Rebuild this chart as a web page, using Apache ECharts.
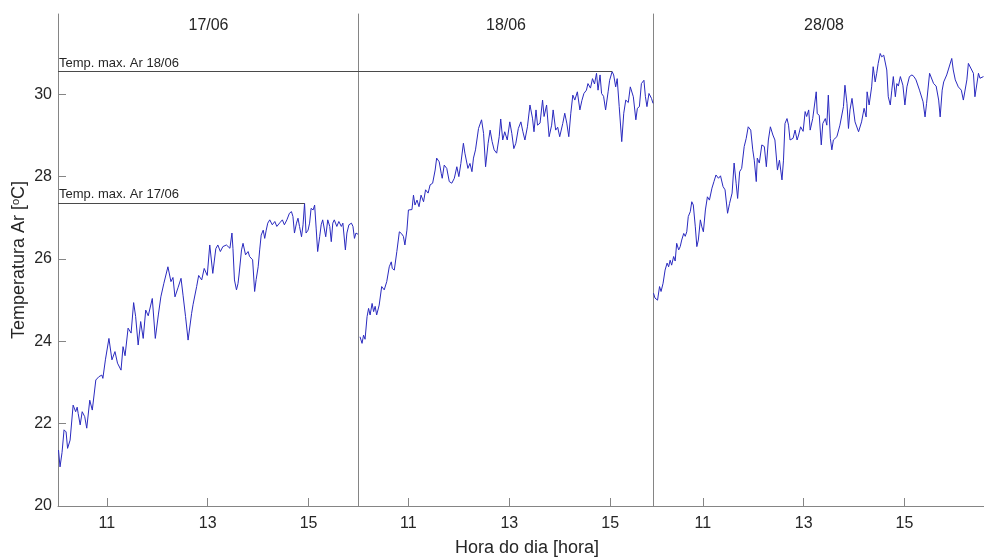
<!DOCTYPE html>
<html>
<head>
<meta charset="utf-8">
<script src="https://cdn.jsdelivr.net/npm/echarts@6/dist/echarts.min.js"></script>
<style>
html,body{margin:0;padding:0;background:#fff;}
#chart{width:984px;height:557px;}
</style>
</head>
<body>
<div id="chart"></div>
<script>
// ---- Data (hours of day, air temperature in °C) ----
const dayTitles = ['17/06', '18/06', '28/08'];
const xTickValues = [11, 13, 15];
const yTickValues = [20, 22, 24, 26, 28, 30];

const hours1706 = [10.04,10.07,10.11,10.15,10.19,10.22,10.27,10.33,10.38,10.41,10.43,10.47,10.51,10.56,10.60,10.66,10.71,10.78,10.84,10.90,10.92,10.97,11.04,11.10,11.16,11.21,11.28,11.32,11.36,11.42,11.48,11.53,11.57,11.62,11.67,11.72,11.77,11.82,11.90,11.96,12.02,12.07,12.13,12.21,12.27,12.31,12.35,12.41,12.47,12.51,12.56,12.61,12.68,12.71,12.78,12.82,12.88,12.93,12.99,13.04,13.10,13.16,13.20,13.25,13.30,13.37,13.44,13.48,13.50,13.53,13.57,13.60,13.62,13.67,13.70,13.75,13.80,13.83,13.89,13.93,13.96,14.00,14.03,14.06,14.10,14.13,14.16,14.19,14.23,14.28,14.33,14.37,14.43,14.48,14.52,14.57,14.62,14.66,14.69,14.72,14.76,14.79,14.82,14.86,14.89,14.92,14.95,14.99,15.02,15.05,15.09,15.12,15.15,15.18,15.22,15.25,15.28,15.34,15.38,15.42,15.45,15.48,15.51,15.56,15.60,15.65,15.68,15.73,15.76,15.80,15.85,15.88,15.91,15.94,15.98];
const temp1706 = [21.36,20.95,21.30,21.85,21.80,21.40,21.60,22.45,22.29,22.40,22.25,21.97,22.29,22.17,21.89,22.57,22.33,23.06,23.14,23.18,23.10,23.55,24.07,23.55,23.75,23.47,23.30,23.87,23.65,24.32,24.20,24.94,24.60,23.91,24.48,24.07,24.76,24.62,25.04,24.07,24.64,25.08,25.41,25.81,25.45,25.55,25.08,25.30,25.53,25.12,24.60,24.03,24.68,24.90,25.33,25.60,25.49,25.77,25.60,26.34,25.65,26.25,26.34,26.18,26.30,26.34,26.26,26.63,26.26,25.49,25.25,25.40,25.61,26.22,26.38,26.10,26.18,26.06,25.98,25.21,25.50,25.81,26.22,26.58,26.70,26.50,26.70,26.87,26.95,26.83,26.91,26.79,26.88,26.95,26.83,26.95,27.11,27.15,27.03,26.63,26.87,26.99,26.79,26.54,26.83,27.35,26.63,26.70,26.87,27.23,27.19,27.31,26.75,26.18,26.54,26.83,26.95,26.54,26.95,26.79,26.42,26.87,26.95,26.79,26.91,26.79,26.87,26.22,26.63,26.83,26.87,26.79,26.50,26.63,26.60];

const hours1806 = [10.04,10.08,10.11,10.14,10.18,10.21,10.24,10.28,10.31,10.34,10.37,10.42,10.47,10.52,10.57,10.62,10.66,10.68,10.72,10.77,10.82,10.86,10.90,10.93,10.97,11.00,11.03,11.07,11.10,11.13,11.17,11.21,11.25,11.30,11.34,11.39,11.43,11.48,11.53,11.56,11.61,11.65,11.67,11.71,11.76,11.81,11.86,11.91,11.96,12.00,12.04,12.09,12.12,12.18,12.22,12.26,12.29,12.33,12.39,12.45,12.49,12.53,12.58,12.62,12.66,12.70,12.75,12.80,12.83,12.87,12.91,12.96,13.01,13.05,13.09,13.13,13.18,13.23,13.27,13.31,13.36,13.41,13.46,13.49,13.53,13.56,13.61,13.66,13.69,13.74,13.79,13.84,13.87,13.92,13.96,14.00,14.06,14.10,14.14,14.18,14.22,14.26,14.30,14.35,14.40,14.44,14.48,14.53,14.56,14.61,14.65,14.69,14.73,14.76,14.80,14.83,14.87,14.91,14.96,14.99,15.04,15.07,15.11,15.14,15.18,15.23,15.27,15.31,15.36,15.40,15.46,15.51,15.54,15.58,15.62,15.67,15.70,15.73,15.77,15.82,15.85];
const temp1806 = [24.11,23.95,24.15,24.05,24.60,24.80,24.64,24.92,24.72,24.85,24.64,24.88,25.33,25.25,25.45,25.81,25.93,25.77,25.73,26.18,26.66,26.62,26.55,26.34,26.70,27.19,27.15,27.20,27.55,27.31,27.43,27.27,27.55,27.39,27.68,27.60,27.80,27.84,28.16,28.45,28.36,28.08,27.96,28.28,28.20,27.88,27.84,27.96,28.24,28.00,28.32,28.81,28.57,28.20,28.32,28.12,28.45,28.65,29.17,29.38,29.05,28.24,28.81,29.13,28.85,28.65,28.57,28.97,29.40,28.89,29.09,28.89,29.33,29.05,28.68,28.81,29.17,29.33,29.09,28.89,29.21,29.74,29.42,29.09,29.62,29.25,29.30,29.86,29.46,29.74,28.97,29.25,29.62,29.13,29.20,28.97,29.29,29.54,29.30,28.97,29.54,29.98,29.86,30.06,29.62,29.85,30.02,30.10,30.26,30.15,30.38,30.25,30.51,30.10,30.47,30.02,29.95,29.62,30.06,30.34,30.55,30.47,30.18,30.38,29.70,28.85,29.54,29.86,29.80,30.18,29.94,29.38,29.66,29.70,30.26,30.34,29.94,29.70,30.02,29.90,29.78];

const hours2808 = [10.02,10.05,10.10,10.14,10.17,10.21,10.25,10.29,10.32,10.35,10.38,10.42,10.45,10.48,10.52,10.55,10.58,10.62,10.65,10.68,10.71,10.75,10.78,10.81,10.85,10.88,10.91,10.95,10.98,11.01,11.05,11.09,11.13,11.18,11.22,11.26,11.31,11.35,11.40,11.44,11.49,11.53,11.58,11.62,11.66,11.69,11.73,11.77,11.82,11.86,11.90,11.95,11.99,12.02,12.06,12.08,12.12,12.17,12.22,12.26,12.30,12.34,12.39,12.43,12.48,12.52,12.57,12.60,12.63,12.67,12.70,12.73,12.79,12.83,12.87,12.90,12.94,12.99,13.03,13.06,13.10,13.13,13.18,13.25,13.27,13.31,13.35,13.38,13.43,13.46,13.49,13.53,13.56,13.59,13.66,13.72,13.79,13.82,13.86,13.89,13.92,13.96,14.02,14.09,14.15,14.20,14.24,14.26,14.30,14.35,14.38,14.42,14.45,14.48,14.52,14.55,14.59,14.62,14.65,14.68,14.72,14.75,14.78,14.82,14.85,14.88,14.92,14.97,15.01,15.05,15.10,15.15,15.19,15.23,15.30,15.37,15.41,15.44,15.50,15.53,15.58,15.63,15.68,15.71,15.75,15.78,15.84,15.87,15.94,15.97,16.01,16.07,16.13,16.17,16.24,16.27,16.30,16.37,16.40,16.47,16.50,16.57];
const temp2808 = [25.17,25.05,25.00,25.33,25.21,25.41,25.73,25.90,25.81,25.97,25.85,26.06,25.95,26.38,26.22,26.30,26.46,26.62,26.55,26.66,27.03,27.15,27.39,27.31,26.78,26.30,26.46,26.95,26.78,26.66,27.19,27.51,27.43,27.72,27.88,28.04,27.96,28.02,27.76,27.68,27.11,27.35,27.60,28.33,27.84,27.47,28.12,28.20,28.73,28.93,29.21,29.13,28.65,28.40,27.88,28.45,28.33,28.77,28.73,28.24,28.89,29.21,29.01,28.89,28.16,28.40,27.92,28.40,29.29,29.41,29.25,28.89,28.93,29.13,28.89,29.01,29.21,29.10,29.58,29.46,29.62,29.13,29.41,30.06,29.53,29.49,28.77,29.29,29.41,29.25,29.98,28.93,28.65,28.89,28.97,29.25,29.70,30.22,29.78,29.17,29.62,29.90,29.33,29.09,29.33,29.66,29.45,30.06,29.74,30.18,30.67,30.30,30.51,30.75,30.99,30.91,30.95,30.91,30.59,29.94,29.74,30.10,30.43,29.94,30.26,30.20,30.43,30.22,29.74,30.18,30.43,30.47,30.43,30.35,30.10,29.82,29.45,29.78,30.51,30.48,30.26,30.20,29.86,29.45,30.10,30.30,30.47,30.59,30.87,30.59,30.35,30.18,30.10,29.86,30.35,30.75,30.71,30.51,29.94,30.51,30.39,30.43];

// reference lines: maximum air temperature of each June day, and the hour it occurred
const max1706 = 27.36, max1706Hour = 14.92;
const max1806 = 30.55, max1806Hour = 15.04;

// axis ranges per panel
const xRanges = [[10.03, 16.0], [10.0, 15.85], [10.01, 16.58]];
const yRange = [20, 31.95];

// ---- Chart ----
const FONT = '"Liberation Sans", Arial, Helvetica, sans-serif';
const AXIS_COLOR = '#858585';
const TEXT_COLOR = '#262626';
const LINE_COLOR = '#2a2abf';

const zip = (a, b) => a.map((t, i) => [t, b[i]]);

const grids = [
  { left: 58, width: 301, top: 14, bottom: 51 },
  { left: 358, width: 295, top: 14, bottom: 51 },
  { left: 653, right: 0, top: 14, bottom: 51 }
];

const xAxes = xRanges.map((r, i) => ({
  type: 'value', gridIndex: i, min: r[0], max: r[1],
  axisLine: { show: true, lineStyle: { color: AXIS_COLOR, width: 1 } },
  axisTick: { show: true, inside: true, length: 8, customValues: xTickValues, lineStyle: { color: AXIS_COLOR } },
  axisLabel: { show: true, customValues: xTickValues, fontSize: 16, color: TEXT_COLOR, fontFamily: FONT, margin: 10 },
  splitLine: { show: false }
}));

const yAxes = [0, 1, 2].map(i => ({
  type: 'value', gridIndex: i, min: yRange[0], max: yRange[1],
  axisLine: { show: true, lineStyle: { color: AXIS_COLOR, width: 1 } },
  axisTick: { show: i === 0, inside: true, length: 8, customValues: yTickValues, lineStyle: { color: AXIS_COLOR } },
  axisLabel: { show: i === 0, customValues: yTickValues, fontSize: 16, color: TEXT_COLOR, fontFamily: FONT, margin: 6 },
  splitLine: { show: false },
  name: i === 0 ? 'Temperatura Ar [{sup|o}C]' : '',
  nameLocation: 'middle',
  nameRotate: 90,
  nameGap: 30,
  nameTextStyle: {
    fontSize: 18, color: TEXT_COLOR, fontFamily: FONT,
    rich: { sup: { fontSize: 11, color: TEXT_COLOR, fontFamily: FONT, verticalAlign: 'top', lineHeight: 18 } }
  }
}));

const maxLineStyle = { color: '#4a4a4a', width: 1, type: 'solid' };
const maxLabel = { show: true, position: 'insideStartTop', formatter: '{b}', fontSize: 13, color: TEXT_COLOR, fontFamily: FONT, distance: [1, 2] };

const series = [
  {
    type: 'line', xAxisIndex: 0, yAxisIndex: 0, data: zip(hours1706, temp1706),
    showSymbol: false, symbol: 'none', lineStyle: { color: LINE_COLOR, width: 1 }, itemStyle: { color: LINE_COLOR },
    markLine: {
      silent: true, symbol: ['none', 'none'], lineStyle: maxLineStyle, label: maxLabel,
      data: [
        [{ name: 'Temp. max. Ar 18/06', coord: [xRanges[0][0], max1806] }, { coord: [xRanges[0][1], max1806] }],
        [{ name: 'Temp. max. Ar 17/06', coord: [xRanges[0][0], max1706] }, { coord: [max1706Hour, max1706] }]
      ]
    }
  },
  {
    type: 'line', xAxisIndex: 1, yAxisIndex: 1, data: zip(hours1806, temp1806),
    showSymbol: false, symbol: 'none', lineStyle: { color: LINE_COLOR, width: 1 }, itemStyle: { color: LINE_COLOR },
    markLine: {
      silent: true, symbol: ['none', 'none'], lineStyle: maxLineStyle, label: { show: false },
      data: [
        [{ coord: [xRanges[1][0], max1806] }, { coord: [max1806Hour, max1806] }]
      ]
    }
  },
  {
    type: 'line', xAxisIndex: 2, yAxisIndex: 2, data: zip(hours2808, temp2808),
    showSymbol: false, symbol: 'none', lineStyle: { color: LINE_COLOR, width: 1 }, itemStyle: { color: LINE_COLOR }
  }
];

const titleX = [208.5, 506, 824];
const graphic = dayTitles.map((t, i) => ({
  type: 'text', x: titleX[i], y: 26,
  style: { text: t, fill: TEXT_COLOR, font: '16px ' + FONT, align: 'center', verticalAlign: 'middle' }
}));
graphic.push({
  type: 'text', x: 527, y: 548,
  style: { text: 'Hora do dia [hora]', fill: TEXT_COLOR, font: '18px ' + FONT, align: 'center', verticalAlign: 'middle' }
});

const chart = echarts.init(document.getElementById('chart'), null, { renderer: 'canvas' });
chart.setOption({
  animation: false,
  backgroundColor: '#ffffff',
  grid: grids,
  xAxis: xAxes,
  yAxis: yAxes,
  series: series,
  graphic: graphic
});
</script>
</body>
</html>
